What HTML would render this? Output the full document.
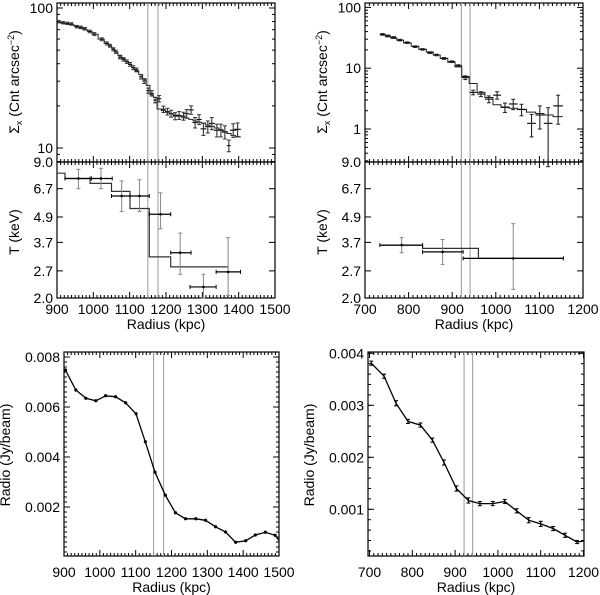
<!DOCTYPE html>
<html><head><meta charset="utf-8">
<style>
html,body{margin:0;padding:0;background:#fff;}
svg{display:block;font-family:"Liberation Sans",sans-serif;}
</style></head>
<body>
<svg id="fig" width="600" height="595" viewBox="0 0 600 595" xmlns="http://www.w3.org/2000/svg"></svg>
<script>
// ---------- DATA ----------
const tlRadius = [905,917,929,940,954,966,977,990,1003,1023,1037,1046,1055,1062,1073,1083,1092,1101,1110,1119,1131,1140,1151,1161,1170,1181,1193,1204,1214,1225,1236,1248,1257,1269,1280,1291,1303,1315,1326,1340,1351,1362,1373,1385,1397];
const tlSigma = [79.8,78.5,77.7,76.9,73.6,72.7,71.1,68,65.2,59.8,55.9,53.8,50.7,48.7,44.5,43,41.4,39.6,37.5,36.1,32.3,30.1,25.7,24.6,22.0,22.5,18.9,18.2,17.6,16.9,17.1,16.9,17.6,18.7,15.2,16.0,13.7,14.2,15.0,13.4,13.4,13.0,10.4,13.4,13.6];
const tlSigmaErr = [1.5,1.5,1.5,1.5,1.5,1.5,1.5,1.5,1.5,1.4,1.4,1.3,1.3,1.3,1.2,1.2,1.2,1.2,1.2,1.1,1.2,1.2,1.1,1.1,1.0,1.2,1.0,1.0,1.0,1.0,1.1,1.1,1.2,1.3,1.3,1.3,1.4,1.4,1.5,1.4,1.4,1.4,1.0,1.5,1.5];
const tlRadErr = [4,4,4,4,4,4,4,4,4,5,5,4,4,4,5,5,5,5,5,5,5,5,5,5,5,6,6,6,6,6,6,6,7,7,7,7,8,8,8,8,8,8,5,9,9];
const tlModel = [79,78,77,76,74,72,70,68,65,60,56,53.5,51,48.5,46,43.5,41.5,39.5,37.5,35.5,33.5,31,28,24,23,19,18.5,18,17.6,17.2,16.9,16.6,16.3,16,15.6,15.3,15,14.6,14.3,13.9,13.5,13.1,12.7,12.3,12];
const tlTRad = [959,1021,1078,1127,1185,1239,1303,1371];
const tlTRadLo = [922,991,1050,1101,1154,1213,1266,1338];
const tlTRadHi = [995,1052,1101,1154,1213,1269,1338,1405];
const tlT = [7.5,7.5,6.18,6.18,5.05,3.30,2.26,2.67];
const tlTLo = [6.7,6.7,5.2,5.2,4.3,2.6,2.0,2.06];
const tlTHi = [8.3,8.4,7.3,7.4,6.4,4.1,2.6,3.9];
const tlTModelEdges = [900,922,991,1050,1101,1154,1213,1371];
const tlTModel = [7.95,7.5,7.1,6.5,5.38,3.15,2.82];
const trRadius = [740,753,766,780,797,815,832,849,864,881,899,914,930,948,966,984,1003,1021,1040,1059,1082,1101,1120,1143];
const trSigma = [36,34,32,29,26.3,22.6,20.4,18,16.5,14.5,12.8,11,7.0,4.0,3.76,3.1,3.6,2.27,2.58,2.1,1.24,1.7,1.24,2.4];
const trSigmaErr = [1.2,1,1,0.9,0.8,0.7,0.6,0.6,0.5,0.5,0.4,0.4,0.5,0.35,0.35,0.4,0.5,0.4,0.5,0.45,0.5,0.7,1.0,1.2];
const trRadErr = [6,6,6,7,7,7,7,7,7,7,8,8,8,8,9,9,9,10,10,10,10,10,10,11];
const trModel = [36,33,31,29,26,23,20.5,18.5,16.5,14.5,12.5,10.5,7.3,5.6,4.0,3.3,2.5,2.3,2.2,2.1,1.9,1.8,1.7,1.6];
const trTRad = [784,878,1040];
const trTRadLo = [734,832,925];
const trTRadHi = [832,925,1155];
const trT = [3.59,3.33,3.10];
const trTLo = [3.3,2.9,2.2];
const trTHi = [3.9,3.82,4.55];
const trTModelEdges = [734,832,960,1155];
const trTModel = [3.59,3.46,3.10];
const blRadius = [904,933,961,989,1016,1044,1072,1101,1127,1154,1183,1211,1239,1268,1295,1323,1351,1379,1407,1434,1462,1489,1500];
const blRadio = [0.00748,0.00668,0.00635,0.00625,0.00645,0.00641,0.00617,0.00573,0.00461,0.00339,0.00247,0.00177,0.00153,0.00153,0.00147,0.00121,0.00100,0.00059,0.00065,0.00088,0.00099,0.00087,0.00067];
const brRadius = [704,734,762,790,819,847,874,903,931,958,988,1016,1044,1072,1100,1129,1157,1185,1200];
const brRadio = [0.00381,0.00356,0.00304,0.00269,0.00262,0.00233,0.00190,0.00140,0.00117,0.00111,0.00111,0.00115,0.00097,0.00079,0.00072,0.00063,0.00050,0.00037,0.00039];
const brRadioErr = [0.00004,0.00004,0.00005,0.00004,0.00004,0.00004,0.00005,0.00005,0.00005,0.00004,0.00004,0.00004,0.00004,0.00005,0.00005,0.00004,0.00004,0.00003,0];
const tlLines = [1150,1178];
const trLines = [921,941];
const tlXTicks = [900,1000,1100,1200,1300,1400,1500];
const trXTicks = [700,800,900,1000,1100,1200];
const tTicks = [9.0,6.7,4.9,3.7,2.7,2.0];
const blYTicks = [0.002,0.004,0.006,0.008];
const brYTicks = [0.001,0.002,0.003,0.004];

// ---------- HELPERS ----------
const NS = "http://www.w3.org/2000/svg";
const svg = document.getElementById('fig');
const FS = 14;
function mk(tag, attrs, parent){
  const e = document.createElementNS(NS, tag);
  for (const k in attrs) e.setAttribute(k, attrs[k]);
  (parent||svg).appendChild(e);
  return e;
}
function group(name){
  const g = mk('g', {});
  
  
  return g;
}
function line(g, x1,y1,x2,y2, stroke, w){
  return mk('line',{x1:x1,y1:y1,x2:x2,y2:y2,stroke:stroke||'#000','stroke-width':w||1},g);
}
function text(g, x, y, s, anchor, size){
  const t = mk('text',{x:x,y:y,'text-anchor':anchor||'middle','font-size':size||FS,fill:'#000'},g);
  t.textContent = s;
  return t;
}
const lg = Math.log10;

function frame(name, x0,x1,y0,y1){
  const g = group(name);
  const r = mk('rect',{x:x0,y:y0,width:x1-x0,height:y1-y0,fill:'none',stroke:'#000','stroke-width':1.2},g);
  
  
  return g;
}
function xTicks(g, X, lo, hi, major, minor, y0, y1){
  for (let v=lo; v<=hi+1e-9; v+=minor){
    const isMaj = Math.abs((v-lo)/major - Math.round((v-lo)/major))<1e-6;
    const L = isMaj?6:3;
    line(g, X(v), y1, X(v), y1-L);
    line(g, X(v), y0, X(v), y0+L);
  }
}
function yTicksVals(g, vals, Y, x0, x1, L){
  vals.forEach(v=>{ line(g, x0, Y(v), x0+L, Y(v)); line(g, x1, Y(v), x1-L, Y(v)); });
}
function vlines(g, vals, X, y0, y1){
  vals.forEach(v=>{
    const l = line(g, X(v), y0, X(v), y1, '#9a9a9a', 1);
    
    
  });
}
function sigmaTitle(g, x, y){
  const t = mk('text',{x:0,y:0,'text-anchor':'middle','font-size':FS,transform:'translate('+x+','+y+') rotate(-90)'},g);
  
  
  const a = mk('tspan',{},t); a.textContent='Σ';
  const b = mk('tspan',{dy:3,'font-size':9},t); b.textContent='x';
  const c = mk('tspan',{dy:-3},t); c.textContent=' (Cnt arcsec';
  const d = mk('tspan',{dy:-5,'font-size':9},t); d.textContent='−2';
  const e = mk('tspan',{dy:5},t); e.textContent=')';
}
function rotTitle(g, x, y, s, name){
  const t = mk('text',{x:0,y:0,'text-anchor':'middle','font-size':FS,transform:'translate('+x+','+y+') rotate(-90)'},g);
  t.textContent = s;
  
  
}

function xrayPanel(p){
  const {pre,x0,x1,X,SY,rad,sig,sErr,rErr,model,tRad,tRadLo,tRadHi,tv,tLo,tHi,tEdges,tModel,vl,xt,xmin,xmax,sLabels,decLo,decHi,boxCol} = p;
  const yTop=3, yMid=162, yBot=298;
  const TY = t => yMid + (lg(9)-lg(t))*(yBot-yMid)/lg(9/2);
  const g = frame(pre+'-sigma-panel', x0,x1,yTop,yMid);
  const g2 = frame(pre+'-temperature-panel', x0,x1,yMid,yBot);
  xTicks(g, X, xmin, xmax, 100, 10, yTop, yMid);
  xTicks(g2, X, xmin, xmax, 100, 10, yMid, yBot);
  for (let d=decLo; d<=decHi; d++){
    for (let m=1;m<10;m++){
      const v = m*Math.pow(10,d);
      const y = SY(v);
      if (y<yTop || y>yMid) continue;
      const L = m===1?6:3;
      line(g, x0, y, x0+L, y); line(g, x1, y, x1-L, y);
    }
  }
  sLabels.forEach(v=>{ const t=text(g, x0-4, SY(v)+5, String(v), 'end');
      });
  yTicksVals(g2, tTicks, TY, x0, x1, 6);
  tTicks.forEach(v=>{ const t=text(g2, x0-4, TY(v)+5, v.toFixed(1), 'end');
      });
  xt.forEach(v=>{ const t=text(g2, X(v), 314, String(v));
      });
  const xtitle = text(g2, (x0+x1)/2, 329, 'Radius (kpc)');
  
  
  sigmaTitle(g, x0-38, 82);
  rotTitle(g2, x0-38, 232, 'T (keV)', 'temperature-y-axis-title');
  vlines(g, vl, X, yTop, yMid);
  vlines(g2, vl, X, yMid, yBot);
  let d='';
  for (let i=0;i<rad.length;i++){
    const a = i===0 ? rad[0]-rErr[0] : (rad[i-1]+rad[i])/2;
    const b = i===rad.length-1 ? rad[i]+rErr[i] : (rad[i]+rad[i+1])/2;
    d += (i===0?'M':'L')+X(a).toFixed(1)+' '+SY(model[i]).toFixed(1)+' L'+X(b).toFixed(1)+' '+SY(model[i]).toFixed(1)+' ';
  }
  const mp = mk('path',{d:d,fill:'none',stroke:'#222','stroke-width':1},g);
  
  
  for (let i=0;i<rad.length;i++){
    const eg = mk('g',{},g);
    
    
    const cx=X(rad[i]), cy=SY(sig[i]);
    const yh=SY(sig[i]+sErr[i]), yl=SY(Math.max(sig[i]-sErr[i],0.01));
    line(eg, X(rad[i]-rErr[i]), cy, X(rad[i]+rErr[i]), cy, '#000', 1.1);
    line(eg, cx, yh, cx, yl, boxCol, 1.1);
    line(eg, cx-2, yh, cx+2, yh, boxCol, 1);
    line(eg, cx-2, yl, cx+2, yl, boxCol, 1);
  }
  let d2='';
  for (let i=0;i<tModel.length;i++){
    d2 += (i===0?'M':'L')+X(tEdges[i]).toFixed(1)+' '+TY(tModel[i]).toFixed(1)+' L'+X(tEdges[i+1]).toFixed(1)+' '+TY(tModel[i]).toFixed(1)+' ';
  }
  const tp = mk('path',{d:d2,fill:'none',stroke:'#333','stroke-width':1.2},g2);
  
  
  for (let i=0;i<tRad.length;i++){
    const eg = mk('g',{},g2);
    
    
    const cx=X(tRad[i]), cy=TY(tv[i]);
    line(eg, cx, TY(tHi[i]), cx, TY(tLo[i]), '#888', 1);
    line(eg, cx-2, TY(tHi[i]), cx+2, TY(tHi[i]), '#888', 1);
    line(eg, cx-2, TY(tLo[i]), cx+2, TY(tLo[i]), '#888', 1);
    line(eg, X(tRadLo[i]), cy, X(tRadHi[i]), cy, '#000', 1.2);
    line(eg, X(tRadLo[i]), cy-2, X(tRadLo[i]), cy+2, '#000', 1);
    line(eg, X(tRadHi[i]), cy-2, X(tRadHi[i]), cy+2, '#000', 1);
    mk('circle',{cx:cx,cy:cy,r:1.3,fill:'#000'},eg);
  }
}

const tlX = r => 57 + (r-900)*218/600;
xrayPanel({pre:'top-left',x0:57,x1:275,X:tlX,SY:s=>148-140*(lg(s)-1),
  rad:tlRadius,sig:tlSigma,sErr:tlSigmaErr,rErr:tlRadErr,model:tlModel,
  tRad:tlTRad,tRadLo:tlTRadLo,tRadHi:tlTRadHi,tv:tlT,tLo:tlTLo,tHi:tlTHi,
  tEdges:tlTModelEdges,tModel:tlTModel,vl:tlLines,xt:tlXTicks,xmin:900,xmax:1500,
  sLabels:[100,10],decLo:0,decHi:2,boxCol:'#333'});
const trX = r => 365 + (r-700)*218/500;
xrayPanel({pre:'top-right',x0:365,x1:583,X:trX,SY:s=>129-60.8*lg(s),
  rad:trRadius,sig:trSigma,sErr:trSigmaErr,rErr:trRadErr,model:trModel,
  tRad:trTRad,tRadLo:trTRadLo,tRadHi:trTRadHi,tv:trT,tLo:trTLo,tHi:trTHi,
  tEdges:trTModelEdges,tModel:trTModel,vl:trLines,xt:trXTicks,xmin:700,xmax:1200,
  sLabels:[100,10,1],decLo:-1,decHi:2,boxCol:'#222'});

function radioPanel(p){
  const {pre,x0,x1,X,Y,rad,val,err,yt,xt,xmin,xmax,vl,ymax,dots} = p;
  const y0=352, y1=556;
  const g = frame(pre+'-radio-panel', x0,x1,y0,y1);
  xTicks(g, X, xmin, xmax, 100, 10, y0, y1);
  for (let v=0.0002; v<ymax; v+=0.0002){ const y=Y(v); if(y>y0&&y<y1){ line(g,x0,y,x0+3,y); line(g,x1,y,x1-3,y);} }
  yTicksVals(g, yt, Y, x0, x1, 6);
  yt.forEach(v=>{ const t=text(g, x0-4, Y(v)+5, v.toFixed(3), 'end');
      });
  xt.forEach(v=>{ const t=text(g, X(v), 577, String(v));
      });
  const xtitle = text(g, (x0+x1)/2, 592, 'Radius (kpc)');
  
  
  rotTitle(g, x0-54, 455, 'Radio (Jy/beam)', 'radio-y-axis-title');
  vlines(g, vl, X, y0, y1);
  let d='';
  rad.forEach((r,i)=>{ d += (i===0?'M':'L')+X(r).toFixed(1)+' '+Y(val[i]).toFixed(1)+' '; });
  const pl = mk('path',{d:d,fill:'none',stroke:'#000','stroke-width':1.3},g);
  
  
  for (let i=0;i<dots;i++){
    const eg = mk('g',{},g);
    
    
    const cx=X(rad[i]), cy=Y(val[i]);
    if (err){
      line(eg, cx, Y(val[i]+err[i]), cx, Y(val[i]-err[i]), '#000', 1.2);
      line(eg, cx-2, Y(val[i]+err[i]), cx+2, Y(val[i]+err[i]), '#000', 1);
      line(eg, cx-2, Y(val[i]-err[i]), cx+2, Y(val[i]-err[i]), '#000', 1);
    } else {
      mk('circle',{cx:cx,cy:cy,r:1.6,fill:'#000'},eg);
    }
  }
}
radioPanel({pre:'bottom-left',x0:64,x1:279,X:r=>64+(r-900)*215/600,Y:v=>557-v*25000,
  rad:blRadius,val:blRadio,err:null,yt:blYTicks,xt:tlXTicks,xmin:900,xmax:1500,vl:tlLines,ymax:0.0082,dots:blRadius.length-1});
radioPanel({pre:'bottom-right',x0:368,x1:584,X:r=>369.5+(r-700)*214/500,Y:v=>561.3-v*52000,
  rad:brRadius,val:brRadio,err:brRadioErr,yt:brYTicks,xt:trXTicks,xmin:700,xmax:1200,vl:trLines,ymax:0.0041,dots:brRadius.length-1});
</script>
</body></html>
